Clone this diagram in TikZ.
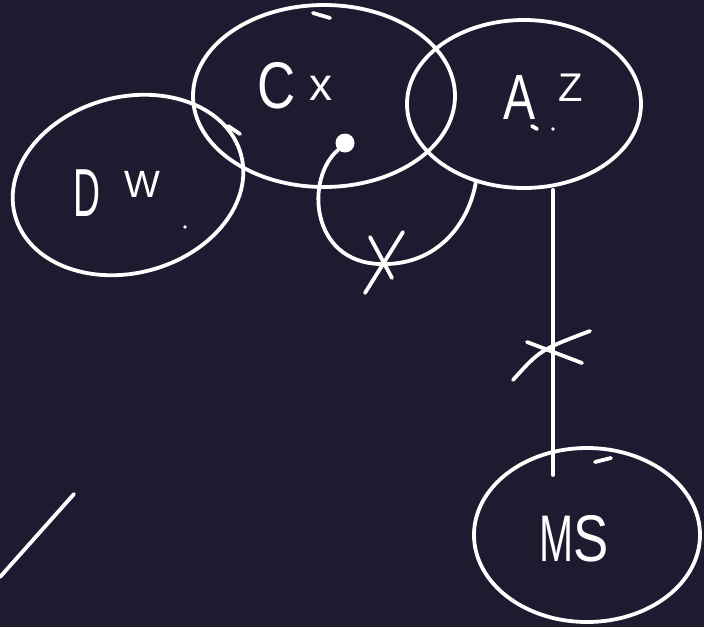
\documentclass[tikz,border=0pt]{standalone}
\usepackage{fontspec}
\setmainfont{Liberation Sans}
\usetikzlibrary{shapes.geometric}
\definecolor{board}{RGB}{30,26,48}
\newcommand{\handnarrow}[2]{\scalebox{#1}[1]{#2}}
\tikzset{
  blob/.style={draw=white, line width=3.8pt, ellipse, inner sep=0pt},
  chalk/.style={draw=white, line width=3.8pt, line cap=round},
  scrawl/.style={text=white, inner sep=0pt},
}
\begin{document}
\begin{tikzpicture}[x=1pt,y=-1pt]
    \fill[board] (0,0) rectangle (704,627);
    \useasboundingbox (0,0) rectangle (704,627);
    % the four groups
    \node[blob, minimum width=234pt, minimum height=176pt, rotate=15] (dw) at (128,185) {};
    \node[blob, minimum width=262pt, minimum height=182pt] (cx) at (324,96) {};
    \node[blob, minimum width=234pt, minimum height=168pt] (az) at (524,104) {};
    \node[blob, minimum width=226pt, minimum height=174pt] (ms) at (587,535) {};
    % hand written names
    \node[scrawl, font=\fontsize{66}{66}\selectfont] (cletter) at (277,86) {\handnarrow{0.8}{C}};
    \node[scrawl, font=\fontsize{46}{46}\selectfont] (xletter) at (321,88) {x};
    \node[scrawl, font=\fontsize{64}{64}\selectfont] (aletter) at (520,97) {\handnarrow{0.75}{A}};
    \node[scrawl, font=\fontsize{40}{40}\selectfont] (zletter) at (571,88) {Z};
    \node[scrawl, font=\fontsize{68}{68}\selectfont] (dletter) at (87,193) {\handnarrow{0.55}{D}};
    \node[scrawl, font=\fontsize{38}{38}\selectfont] (wletter) at (142,184) {W};
    \node[scrawl, font=\fontsize{66}{66}\selectfont] (mstext) at (574,539) {\handnarrow{0.62}{M}\handnarrow{0.8}{S}};
    % stray marks
    \fill[white] (553,129) circle (1.8pt);
    \draw[chalk] (532,126) -- (537,129);
    \fill[white] (185,227) circle (1.8pt);
    \draw[chalk] (313,13) -- (330,18);
    \draw[chalk] (228,126) -- (240,134);
    \draw[chalk] (595,462) -- (611,458);
    \draw[chalk] (0,577) -- (74,494);
    % loop from Cx to AZ
    \node[circle, fill=white, minimum size=19pt, inner sep=0pt] (spot) at (345,143) {};
    \coordinate (loopend) at (476,181);
    \draw[chalk] (spot.south west) .. controls (305,178) and (310,262) .. (380,264)
        .. controls (440,266) and (470,220) .. (loopend);
    \draw[chalk] (365,293) -- (403,232);
    \draw[chalk] (370,237) -- (392,278);
    % AZ down to MS
    \coordinate (msend) at (553,475);
    \draw[chalk] (az.south -| msend) -- (msend);
    \draw[chalk] (513,380) .. controls (540,350) .. (590,331);
    \draw[chalk] (527,342) -- (582,363);
\end{tikzpicture}
\end{document}
